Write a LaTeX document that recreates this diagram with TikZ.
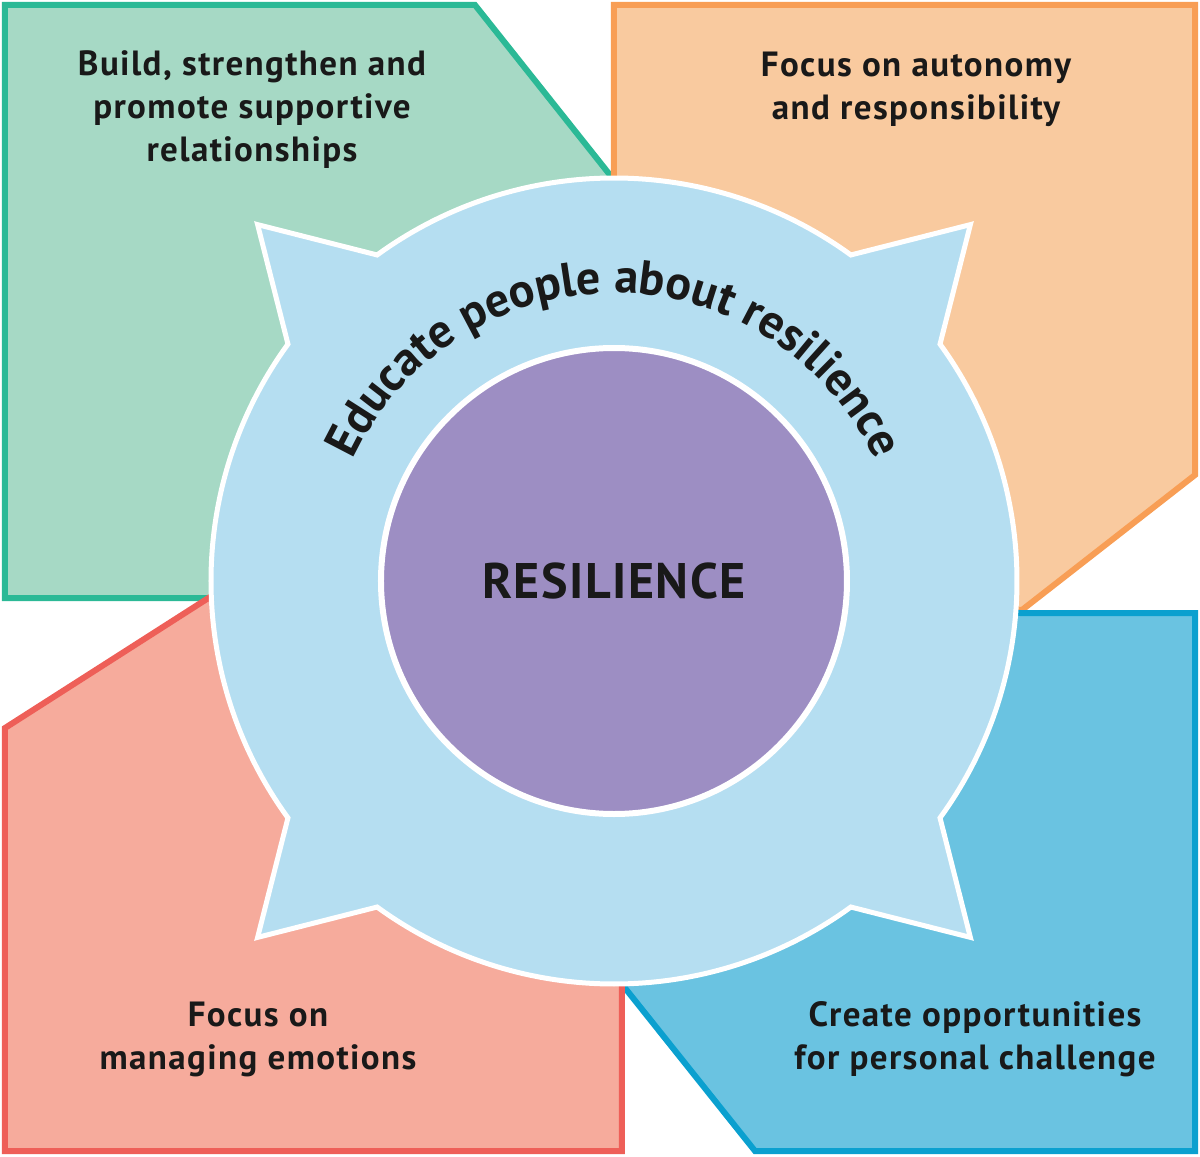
\documentclass[tikz,border=0pt]{standalone}
\usepackage{fontspec}
\setmainfont{PT Sans}
\usetikzlibrary{decorations.text}

\definecolor{greenfill}{RGB}{166,217,197}
\definecolor{greenline}{RGB}{43,185,150}
\definecolor{orangefill}{RGB}{249,202,159}
\definecolor{orangeline}{RGB}{248,158,85}
\definecolor{bluefill}{RGB}{106,195,225}
\definecolor{blueline}{RGB}{11,160,207}
\definecolor{redfill}{RGB}{246,171,156}
\definecolor{redline}{RGB}{238,95,88}
\definecolor{ringblue}{RGB}{181,222,241}
\definecolor{corepurple}{RGB}{157,142,195}
\definecolor{textblack}{RGB}{25,25,25}

\begin{document}
\begin{tikzpicture}
		[x=0.5pt, y=0.5pt,
		panel/.style ={line width=3pt, line join=miter},
		ring/.style ={draw=white, line width=2.5pt, fill=ringblue, line join=miter},
		core/.style ={circle, draw=white, line width=3pt, fill=corepurple, inner sep=0pt, minimum size=233pt,
		text=textblack, font=\fontsize{25}{30}\selectfont\bfseries\addfontfeature{LetterSpace=3}},
		label/.style ={align=center, text=textblack, font=\fontsize{17.5}{21.5}\selectfont\bfseries\addfontfeature{LetterSpace=4}},
		]
		\useasboundingbox (-614,-576) rectangle (586,581);

		% four corner panels
		\draw[panel, draw=greenline, fill=greenfill] (-609,576) -- (-139,576) -- (0,401) -- (0,-17) -- (-609,-17) -- cycle;
		\draw[panel, draw=orangeline, fill=orangefill] (0,576) -- (581,576) -- (581,106) -- (408,-29) -- (0,0) -- cycle;
		\draw[panel, draw=blueline, fill=bluefill] (406,-32) -- (581,-32) -- (581,-570) -- (141,-570) -- (11,-407) -- (0,0) -- cycle;
		\draw[panel, draw=redline, fill=redfill] (-609,-147) -- (-404,-16) -- (0,0) -- (8,-404) -- (8,-570) -- (-609,-570) -- cycle;

		% ring with spikes
		\draw[ring] (54:403) arc[start angle=54, end angle=126, radius=403] -- (135:504) -- (144:403)
		arc[start angle=144, end angle=216, radius=403] -- (225:504) -- (234:403)
		arc[start angle=234, end angle=306, radius=403] -- (315:504) -- (324:403)
		arc[start angle=324, end angle=396, radius=403] -- (45:504) -- cycle;

		\path[decorate, decoration={text along path, text align=center,
		text={|\fontsize{24}{28}\selectfont\bfseries\color{textblack}|Educate people about resilience}}]
		(180:288) arc[start angle=180, end angle=0, radius=288];

		\draw (0,0) node[core] (C) {RESILIENCE};

		\draw (-362,471) node[label] (G1) {Build, strengthen and\\promote supportive\\relationships};
		\draw (302,492) node[label] (O1) {Focus on autonomy\\and responsibility};
		\draw (-356,-458) node[label] (R1) {Focus on\\managing emotions};
		\draw (361,-458) node[label] (B1) {Create opportunities\\for personal challenge};
	\end{tikzpicture}
\end{document}
